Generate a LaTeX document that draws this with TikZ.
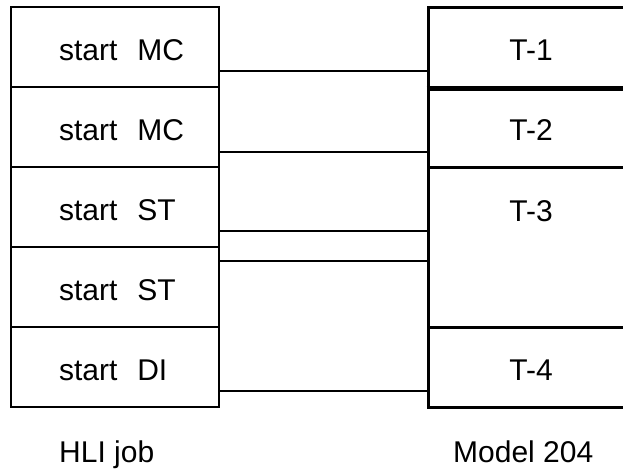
\documentclass[tikz,border=0pt]{standalone}
\usepackage{fontspec}
\setmainfont{Liberation Sans}
\begin{document}
\begin{tikzpicture}[x=1pt,y=-1pt,
  txt/.style={font=\fontsize{30}{35}\selectfont},
  jobbox/.style={draw, line width=2pt, minimum width=208pt, minimum height=80pt,
    inner xsep=48pt, inner ysep=0pt, text width=112pt, align=left,
    text height=26pt, text depth=0pt, txt},
  tapebox/.style={draw, line width=3pt, minimum width=206pt, minimum height=80pt,
    inner sep=0pt, text height=26pt, text depth=0pt, txt},
  link/.style={line width=1.7pt},
  caption/.style={txt, anchor=base west, inner sep=0pt}]
\clip (0,0) rectangle (623,471);
\fill[white] (0,0) rectangle (623,471);

% job steps
\node[jobbox] (l1) at (115,47)  {start~~MC};
\node[jobbox] (l2) at (115,127) {start~~MC};
\node[jobbox] (l3) at (115,207) {start~~ST};
\node[jobbox] (l4) at (115,287) {start~~ST};
\node[jobbox] (l5) at (115,367) {start~~DI};

% tapes
\node[tapebox] (t1) at (531,47)  {T-1};
\node[tapebox] (t2) at (531,127) {T-2};
\node[tapebox, minimum height=160pt, text depth=78pt] (t3) at (531,247) {T-3};
\node[tapebox] (t4) at (531,367) {T-4};
\draw[line width=4.5pt] (t1.south west) -- (t1.south east);

% connections
\coordinate (c1) at ([yshift=17pt]l1.south east);
\coordinate (c2) at ([yshift=16pt]l2.south east);
\coordinate (c3) at ([yshift=17pt]l3.south east);
\coordinate (c4) at ([yshift=-15pt]l4.north east);
\coordinate (c5) at ([yshift=17pt]l5.south east);
\draw[link] (c1) -- (c1 -| t1.west);
\draw[link] (c2) -- (c2 -| t2.west);
\draw[link] (c3) -- (c3 -| t3.west);
\draw[link] (c4) -- (c4 -| t3.west);
\draw[link] (c5) -- (c5 -| t4.west);

% column captions
\node[caption] (hli) at (59,462) {HLI job};
\node[caption] (model) at (453,462) {Model 204};
\end{tikzpicture}
\end{document}
